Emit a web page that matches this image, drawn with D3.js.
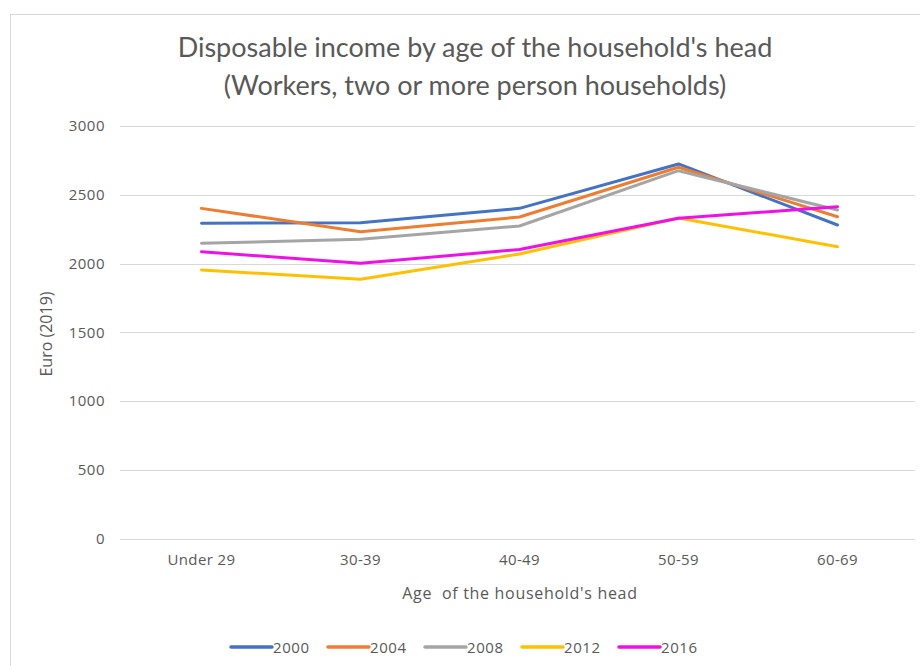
<!DOCTYPE html>
<html>
<head>
<meta charset="utf-8">
<script src="https://cdn.jsdelivr.net/npm/d3@7"></script>
<style>
  html, body { margin: 0; padding: 0; background: #ffffff; }
  svg { display: block; }
  text { font-family: "Open Sans", "DejaVu Sans", sans-serif; fill: #595959; }
</style>
</head>
<body>
<svg id="chart" width="920" height="666"></svg>
<script>
const titleLines = ["Disposable income by age of the household's head", "(Workers, two or more person households)"];
const categories = ["Under 29", "30-39", "40-49", "50-59", "60-69"];
const seriesNames = ["2000", "2004", "2008", "2012", "2016"];
const values2000 = [2292, 2297, 2401, 2724, 2280];
const values2004 = [2401, 2231, 2338, 2700, 2340];
const values2008 = [2147, 2176, 2273, 2675, 2389];
const values2012 = [1953, 1885, 2069, 2331, 2122];
const values2016 = [2086, 2001, 2102, 2329, 2413];
const yTicks = [0, 500, 1000, 1500, 2000, 2500, 3000];
const yAxisTitle = "Euro (2019)";
const xAxisTitle = "Age  of the household's head";
const colors = ["#4472C4", "#ED7D31", "#A5A5A5", "#FFC000", "#EE11E6"];

const seriesValues = [values2000, values2004, values2008, values2012, values2016];
const series = seriesNames.map((name, i) => ({ name, values: seriesValues[i], color: colors[i] }));

const svg = d3.select("#chart");

// outer chart border
svg.append("rect")
  .attr("x", 10.5).attr("y", 14.5)
  .attr("width", 930).attr("height", 680)
  .attr("fill", "#ffffff").attr("stroke", "#d9d9d9").attr("stroke-width", 1);

const plot = { left: 122, right: 917, top: 126, bottom: 538.5 };

const x = d3.scaleBand().domain(categories).range([plot.left, plot.right]);
const y = d3.scaleLinear().domain([0, 3000]).range([plot.bottom, plot.top]);

// title
svg.append("g").selectAll("text").data(titleLines).join("text")
  .attr("x", 475).attr("y", (d, i) => 57 + i * 38)
  .attr("text-anchor", "middle")
  .attr("font-size", 27)
  .style("font-family", "Lato, 'Open Sans', sans-serif")
  .text(d => d);

// grid lines
svg.append("g").selectAll("line").data(yTicks).join("line")
  .attr("x1", plot.left - 2).attr("x2", plot.right - 2)
  .attr("y1", d => Math.round(y(d)) + 0.5).attr("y2", d => Math.round(y(d)) + 0.5)
  .attr("stroke", "#d9d9d9").attr("stroke-width", 1);

// y axis labels
const yAxis = d3.axisLeft(y).tickValues(yTicks).tickFormat(d3.format("d")).tickSize(0).tickPadding(0);
const yg = svg.append("g").attr("transform", `translate(${plot.left - 17},0)`).call(yAxis);
yg.select(".domain").remove();
yg.selectAll("text").attr("font-size", 15).attr("fill", "#595959")
  .style("letter-spacing", "0.5px")
  .style("font-family", "'Open Sans', sans-serif");

// x axis labels
const xAxis = d3.axisBottom(x).tickSize(0).tickPadding(0);
const xg = svg.append("g").attr("transform", `translate(0,${plot.bottom + 16})`).call(xAxis);
xg.select(".domain").remove();
xg.selectAll("text").attr("font-size", 15).attr("fill", "#595959")
  .style("letter-spacing", "0.4px")
  .style("font-family", "'Open Sans', sans-serif");

// axis titles
svg.append("text")
  .attr("transform", "translate(52,334) rotate(-90)")
  .attr("text-anchor", "middle")
  .attr("font-size", 16)
  .text(yAxisTitle);

svg.append("text")
  .attr("x", 520).attr("y", 599)
  .attr("text-anchor", "middle")
  .attr("font-size", 16)
  .style("white-space", "pre")
  .style("letter-spacing", "0.7px")
  .text(xAxisTitle);

// lines
const line = d3.line()
  .x((d, i) => x(categories[i]) + x.bandwidth() / 2)
  .y(d => y(d));

svg.append("g").selectAll("path").data(series).join("path")
  .attr("d", d => line(d.values))
  .attr("fill", "none")
  .attr("stroke", d => d.color)
  .attr("stroke-width", 3)
  .attr("stroke-linejoin", "round")
  .attr("stroke-linecap", "round");

// legend
const legendStep = 97;
const lg = svg.append("g").selectAll("g").data(series).join("g")
  .attr("transform", (d, i) => `translate(${231 + i * legendStep},647)`);
lg.append("line")
  .attr("x1", 0).attr("x2", 41).attr("y1", 0).attr("y2", 0)
  .attr("stroke", d => d.color).attr("stroke-width", 3.5).attr("stroke-linecap", "round");
lg.append("text")
  .attr("x", 42).attr("y", 5.5)
  .attr("font-size", 15)
  .style("letter-spacing", "0.6px")
  .text(d => d.name);
</script>
</body>
</html>
